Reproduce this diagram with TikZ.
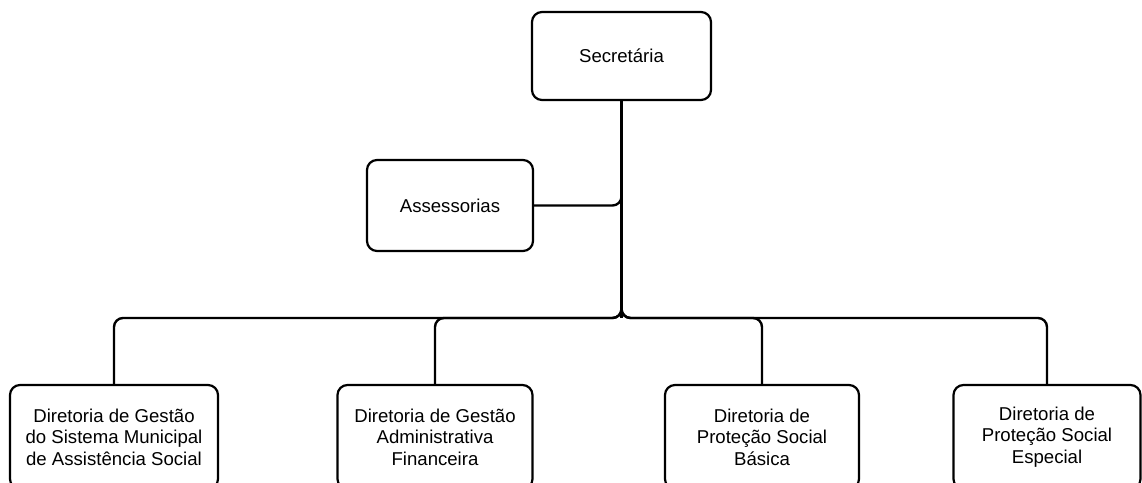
\documentclass[tikz,border=0pt]{standalone}
\usepackage{fontspec}
\setmainfont{Liberation Sans}
\usetikzlibrary{positioning}
\newcommand{\boxheight}{104pt}
\newcommand{\boxfont}{\fontsize{18.6}{21.5}\selectfont}
\tikzstyle{unit} = [% organisational unit node
  rectangle,
  rounded corners=10pt,
  minimum height=\boxheight,
  text centered,
  align=center,
  draw=black,
  line width=2.2pt,
  font=\boxfont
  ]
\tikzstyle{link} = [% connector format
  line width=2.4pt,
  rounded corners=9pt
  ]

\begin{document}
\begin{tikzpicture}[x=1pt,y=1pt]
\useasboundingbox (0,0) rectangle (1142,482);

%%% Nodes
\node[unit, minimum width=179pt, minimum height=88pt] (secretaria) at (621.5,426) {Secretária};
\node[unit, minimum width=166pt, minimum height=91pt] (assessorias) at (450,276.5) {Assessorias};
\node[unit, minimum width=208pt] (dirgestao) at (114,45) {Diretoria de Gestão\\do Sistema Municipal\\de Assistência Social};
\node[unit, minimum width=195pt] (diradmin) at (435,45) {Diretoria de Gestão\\Administrativa\\Financeira};
\node[unit, minimum width=194pt] (dirbasica) at (762,45) {Diretoria de\\Proteção Social\\Básica};
\node[unit, minimum width=187pt] (direspecial) at (1047,45) {Diretoria de\\Proteção Social\\Especial};
\coordinate (bus) at (621.5,164);

%%% Connectors
\draw[link] (assessorias.east) -| (secretaria.south);
\draw[link, line width=3.4pt] (secretaria.south) -- (bus);
\foreach \dir in {dirgestao, diradmin, dirbasica, direspecial}
  \draw[link] (secretaria.south) -- (bus) -| (\dir.north);

\end{tikzpicture}
\end{document}
